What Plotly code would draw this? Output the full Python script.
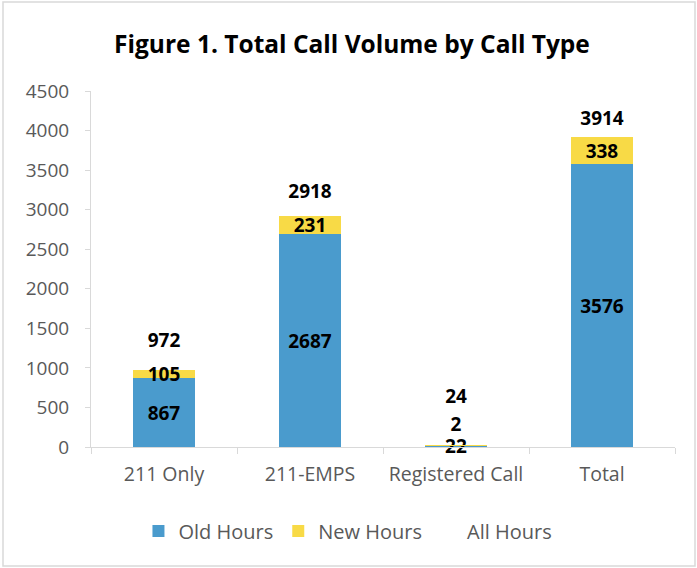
import plotly.graph_objects as go

categories = ["211 Only", "211-EMPS", "Registered Call", "Total"]
old_hours = [867, 2687, 22, 3576]
new_hours = [105, 231, 2, 338]
all_hours = [972, 2918, 24, 3914]
y_ticks = [0, 500, 1000, 1500, 2000, 2500, 3000, 3500, 4000, 4500]

FONT = "Open Sans"
BLUE = "#4A9BCD"
YELLOW = "#F8DA46"
GRAY = "#595959"
AX = "#D9D9D9"
LABEL_FONT = dict(family=FONT, size=19, color="black", weight="bold")

# segments too thin to hold their label get it placed just above the stack
fits = [n >= 50 for n in new_hours]
small_x = [c for c, f in zip(categories, fits) if not f]
small_y = [t for t, f in zip(all_hours, fits) if not f]
small_t = [str(n) for n, f in zip(new_hours, fits) if not f]

fig = go.Figure()
fig.add_trace(go.Bar(
    x=categories, y=old_hours, name="Old Hours", marker_color=BLUE,
    marker_line_width=0, width=0.43,
    text=[str(v) for v in old_hours], textposition="inside",
    insidetextanchor="middle", constraintext="none", textangle=0,
    textfont=LABEL_FONT, cliponaxis=False, hoverinfo="skip",
))
fig.add_trace(go.Bar(
    x=categories, y=new_hours, name="New Hours", marker_color=YELLOW,
    marker_line_width=0, width=0.43,
    text=[str(v) if f else "" for v, f in zip(new_hours, fits)],
    textposition="inside",
    insidetextanchor="middle", constraintext="none", textangle=0,
    textfont=LABEL_FONT, cliponaxis=False, hoverinfo="skip",
))
fig.add_trace(go.Scatter(
    x=small_x, y=small_y, mode="markers+text", showlegend=False,
    marker=dict(size=14, color="rgba(0,0,0,0)", line=dict(width=0)),
    text=small_t, textposition="top center",
    textfont=LABEL_FONT, cliponaxis=False, hoverinfo="skip",
))
fig.add_trace(go.Scatter(
    x=categories, y=all_hours, name="All Hours", mode="markers+text",
    marker=dict(size=[28, 20, 58, 10], color="rgba(0,0,0,0)",
                line=dict(width=0, color="rgba(0,0,0,0)")),
    text=[str(v) for v in all_hours], textposition="top center",
    textfont=LABEL_FONT, cliponaxis=False, hoverinfo="skip",
))

fig.update_layout(
    barmode="stack",
    width=697, height=568,
    margin=dict(l=91, r=22, t=91, b=121),
    paper_bgcolor="white", plot_bgcolor="white",
    font=dict(family=FONT, color=GRAY, size=18),
    title=dict(text="<b>Figure 1. Total Call Volume by Call Type</b>",
               x=0.505, xanchor="center", xref="container", y=1 - 44 / 568, yanchor="middle",
               font=dict(family=FONT, size=24.5, color="black")),
    showlegend=True,
    hovermode=False,
    legend=dict(orientation="h", x=0.44, xanchor="center", y=-0.236, yanchor="middle",
                font=dict(family=FONT, size=20, color=GRAY), traceorder="normal",
                itemwidth=30),
    xaxis=dict(showline=True, linecolor=AX, linewidth=1, ticks="outside",
               tickson="boundaries", ticklen=6, tickcolor=AX, ticklabelstandoff=10,
               tickangle=0,
               tickfont=dict(family=FONT, size=19.5, color=GRAY), showgrid=False),
    yaxis=dict(range=[0, 4500], tickvals=y_ticks, showline=True, linecolor=AX,
               linewidth=1, ticks="outside", ticklen=5, tickcolor=AX,
               ticklabelstandoff=12,
               tickfont=dict(family=FONT, size=19, color=GRAY), showgrid=False,
               zeroline=False),
    shapes=[dict(type="rect", xref="paper", yref="paper",
                 x0=(3 - 91) / 584, x1=(695 - 91) / 584,
                 y0=(447 - 566) / 356, y1=(447 - 2) / 356,
                 line=dict(color="#D9D9D9", width=1.5), layer="below")],
)

fig.write_html("out.html", config={"displayModeBar": False},
               post_script="document.body.style.margin='0';document.body.style.overflow='hidden';")
